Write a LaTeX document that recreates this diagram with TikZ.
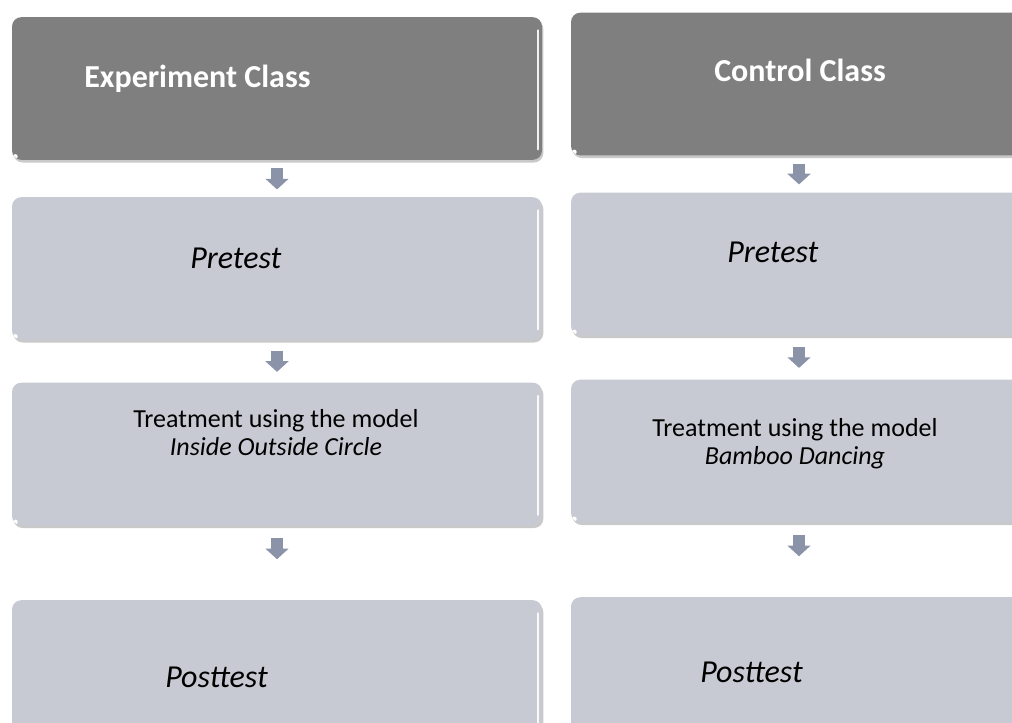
\documentclass[tikz,border=0pt]{standalone}
\usepackage{fontspec}
\setmainfont{Carlito}
\usepackage{tikz}
\usetikzlibrary{positioning,calc,shadows,arrows.meta}

\definecolor{headgray}{HTML}{7F7F7F}
\definecolor{stepgray}{HTML}{C7CAD2}
\definecolor{arrowblue}{HTML}{8A93A8}

\tikzset{
  classbox/.style 2 args={rectangle, rounded corners=7pt, inner sep=0pt,
    minimum width=#1, minimum height=107pt, fill=#2,
    drop shadow={shadow xshift=1pt, shadow yshift=-2pt, opacity=.3, fill=black!70},
    path picture={
      \coordinate (bnw) at (path picture bounding box.north west);
      \coordinate (bse) at (path picture bounding box.south east);
      \shade[top color=#2, middle color=white!75!#2, bottom color=#2]
        ($(bnw)+(4pt,-2pt)$) rectangle ($(bse|-bnw)+(-4pt,-12pt)$);
      \draw[white, line width=2pt, line cap=round, opacity=.9]
        ($(bse)+(-3pt,8pt)$) -- ($(bse|-bnw)+(-3pt,-10pt)$);
      \fill[white] ($(bnw|-bse)+(2.5pt,2.5pt)$) circle (1.8pt);
    }},
  headbox/.style={classbox={#1}{headgray}},
  stepbox/.style={classbox={#1}{stepgray}},
  headtext/.style={text=white, inner sep=0pt, anchor=base west,
    font=\bfseries\fontsize{24}{28}\selectfont},
  steptext/.style={inner sep=0pt, anchor=base west,
    font=\itshape\fontsize{24}{28}\selectfont},
  treattext/.style={inner sep=0pt, align=center,
    font=\fontsize{19.5}{21}\selectfont},
  flow/.style={draw=arrowblue, line width=9pt,
    -{Triangle[width=17pt,length=8pt]}, shorten <=#1, shorten >=#1},
}

\begin{document}
\begin{tikzpicture}[x=0.75pt,y=-0.75pt]
  \useasboundingbox (0,0) rectangle (1012,722);
  \clip (0,0) rectangle (1012,722);

  % experiment class
  \node[headbox=397.5pt] (exp) at (277,88.5) {};
  \node[stepbox=397.5pt] (exppre) at (277,268.5) {};
  \node[stepbox=397.5pt] (exptreat) at (277,454) {};
  \node[stepbox=397.5pt] (exppost) at (277,671.5) {};

  % control class
  \node[headbox=342pt] (ctl) at (799,84) {};
  \node[stepbox=342pt] (ctlpre) at (799,264) {};
  \node[stepbox=342pt] (ctltreat) at (799,451) {};
  \node[stepbox=342pt] (ctlpost) at (799,668.5) {};

  \draw[flow=5.6pt] (exp) -- (exppre);
  \draw[flow=7.9pt] (exppre) -- (exptreat);
  \draw[flow=9pt, shorten >=30.5pt] (exptreat) -- (exppost);
  \draw[flow=6pt] (ctl) -- (ctlpre);
  \draw[flow=8.6pt] (ctlpre) -- (ctltreat);
  \draw[flow=9pt, shorten >=30.5pt] (ctltreat) -- (ctlpost);

  \node[headtext] (exptitle) at (84,87) {Experiment Class};
  \node[headtext] (ctltitle) at (714,81) {Control Class};

  \node[steptext] (expprelabel) at (190,268) {Pretest};
  \node[steptext] (ctlprelabel) at (727,262) {Pretest};

  \node[treattext] (exptreatlabel) at (276,433) {Treatment using the model\\\textit{Inside Outside Circle}};
  \node[treattext] (ctltreatlabel) at (795,444) {Treatment using the model\\\textit{Bamboo Dancing}};

  \node[steptext] (exppostlabel) at (165,687) {Posttest};
  \node[steptext] (ctlpostlabel) at (700,682) {Posttest};
\end{tikzpicture}
\end{document}
